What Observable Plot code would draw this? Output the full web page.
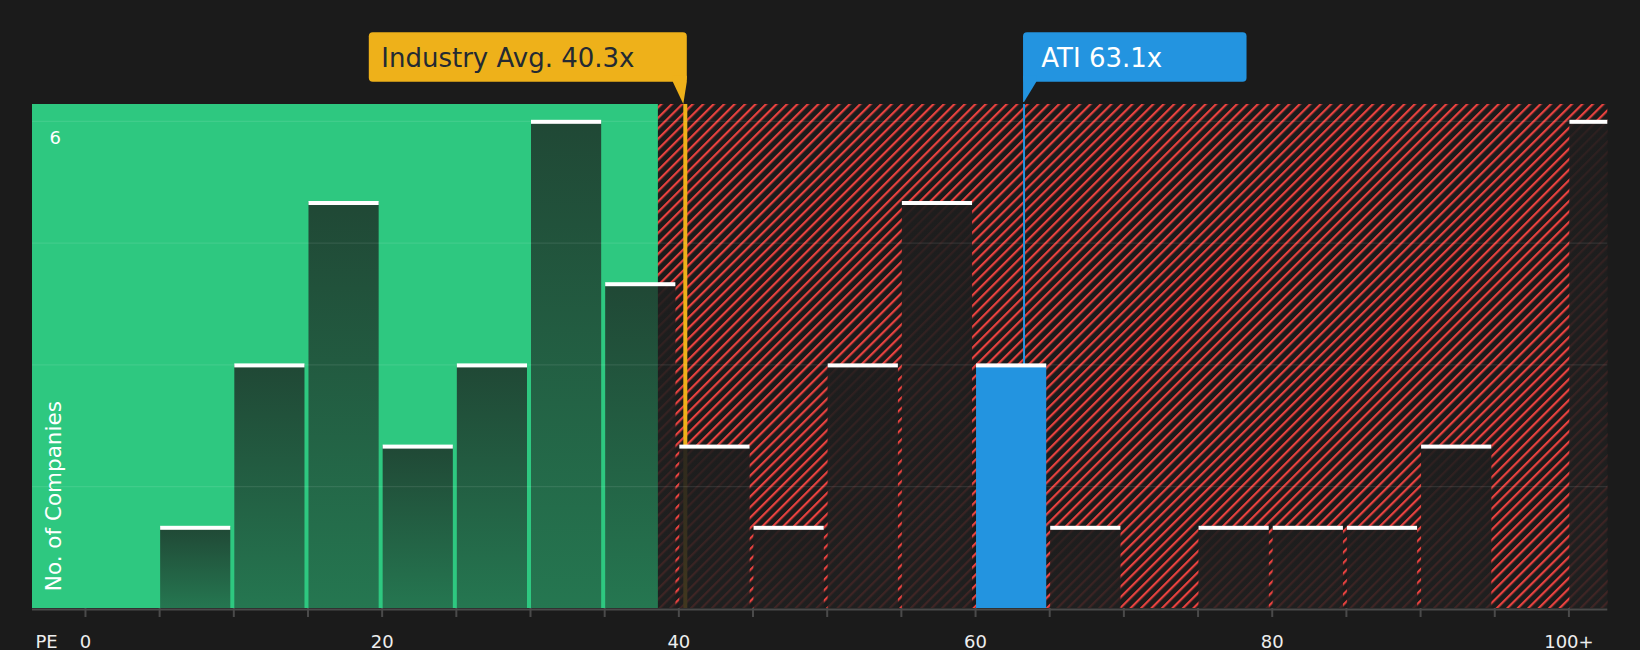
<!DOCTYPE html>
<html>
<head>
<meta charset="utf-8">
<script src="https://cdn.jsdelivr.net/npm/d3@7"></script>
<script src="https://cdn.jsdelivr.net/npm/@observablehq/plot@0.6"></script>
<style>
  html, body { margin: 0; padding: 0; background: #1b1b1b; }
  #chart { width: 1640px; height: 650px; }
</style>
</head>
<body>
<div id="chart"></div>
<script>
// ---- data ----
const binStarts = [0, 5, 10, 15, 20, 25, 30, 35, 40, 45, 50, 55, 60, 65, 70, 75, 80, 85, 90, 95, 100];
const binCounts = [0, 1, 3, 5, 2, 3, 6, 4, 2, 1, 3, 5, 3, 1, 0, 1, 1, 1, 2, 0, 6];
const binWidth = 5;
const xTickValues = [0, 20, 40, 60, 80, 100];
const xTickLabels = ["0", "20", "40", "60", "80", "100+"];
const minorTickValues = [0, 5, 10, 15, 20, 25, 30, 35, 40, 45, 50, 55, 60, 65, 70, 75, 80, 85, 90, 95, 100];
const gridValues = [1.5, 3, 4.5, 6];
const yTickValues = [6];
const yLabel = "No. of Companies";
const xLabel = "PE";
const industryAvg = 40.3;
const industryLabel = "Industry Avg. 40.3x";
const companyPE = 63.1;
const companyLabel = "ATI 63.1x";
const goodRangeEnd = 38.62;
const xDomain = [-3.57, 102.62];
const yDomain = [0, 6.207];

// ---- derived table ----
const bins = binStarts
  .map((s, i) => ({x1: s, x2: s + binWidth, count: binCounts[i]}))
  .filter(d => d.count > 0);
const companyBin = bins.find(d => companyPE >= d.x1 && companyPE < d.x2);
const otherBins = bins.filter(d => d !== companyBin);

const GREEN = "#2ec880";
const YELLOW = "#eeb11a";
const BLUE = "#2394e0";
const FONT = "DejaVu Sans";

const chart = Plot.plot({
  width: 1640,
  height: 650,
  marginTop: 104,
  marginBottom: 42,
  marginLeft: 32,
  marginRight: 32.7,
  x: {domain: xDomain, axis: null},
  y: {domain: yDomain, axis: null},
  style: {background: "transparent", fontFamily: FONT, overflow: "visible", color: "#fff"},
  marks: [
    Plot.rect([{x1: xDomain[0], x2: xDomain[1]}], {x1: "x1", x2: "x2", fill: "url(#hatch)"}),
    Plot.ruleX([industryAvg], {stroke: YELLOW, strokeWidth: 4, dx: 2}),
    Plot.rect(otherBins, {x1: "x1", x2: "x2", y1: 0, y2: "count", fill: "#262626", fillOpacity: 0.7,
      insetLeft: 1, insetRight: 3, clip: true}),
    Plot.rect([{x1: xDomain[0], x2: goodRangeEnd}], {x1: "x1", x2: "x2", fill: GREEN}),
    Plot.rect(otherBins, {x1: "x1", x2: "x2", y1: 0, y2: "count", fill: "url(#barGrad)",
      insetLeft: 1, insetRight: 3, ariaLabel: "good-bars"}),
    Plot.ruleY(gridValues, {stroke: "#ffffff", strokeOpacity: 0.09, strokeWidth: 1.2}),
    Plot.ruleX([companyPE], {stroke: BLUE, strokeWidth: 2, dx: 2.5}),
    Plot.rect([companyBin], {x1: "x1", x2: "x2", y1: 0, y2: "count", fill: BLUE, insetLeft: 1, insetRight: 3}),
    Plot.rect(bins, {x1: "x1", x2: "x2", y1: "count", y2: "count", fill: "#ffffff",
      insetLeft: 1, insetRight: 3, insetTop: -1, insetBottom: -3, clip: true}),
    Plot.ruleY([0], {stroke: "#4a4a4a", strokeWidth: 2, dy: 1}),
    Plot.ruleX(minorTickValues, {y1: 0, y2: 0, insetBottom: -9, stroke: "#4a4a4a", strokeWidth: 2}),
    Plot.text(xTickValues, {x: d => d, text: (d, i) => xTickLabels[i], frameAnchor: "bottom",
      dy: 33.6, lineAnchor: "middle", textAnchor: "middle", fill: "#eeeeee", fontSize: 18}),
    Plot.text([xLabel], {text: d => d, frameAnchor: "bottom-left", dx: 3, dy: 33.6,
      lineAnchor: "middle", textAnchor: "start", fill: "#eeeeee", fontSize: 18}),
    Plot.text(yTickValues, {y: d => d, text: d => String(d), frameAnchor: "left", dx: 17, dy: 17,
      lineAnchor: "middle", textAnchor: "start", fill: "#ffffff", fontSize: 18}),
    Plot.text([yLabel], {text: d => d, frameAnchor: "bottom-left", rotate: -90, dx: 22, dy: -17.3,
      lineAnchor: "middle", textAnchor: "start", fill: "#ffffff", fontSize: 21.5})
  ]
});

document.getElementById("chart").appendChild(chart);

// ---- defs: hatch pattern, gradient, clip ----
const svg = d3.select(chart);
const xs = chart.scale("x");
const X = v => xs.apply(v);
const defs = svg.insert("defs", ":first-child");

const pat = defs.append("pattern")
  .attr("id", "hatch")
  .attr("patternUnits", "userSpaceOnUse")
  .attr("width", 7.4).attr("height", 7.4)
  .attr("patternTransform", "rotate(45)");
pat.append("rect").attr("width", 7.4).attr("height", 7.4).attr("fill", "#1b1b1b");
pat.append("line").attr("x1", 1.1).attr("y1", -1).attr("x2", 1.1).attr("y2", 8.4)
  .attr("stroke", "#e8423f").attr("stroke-width", 2.2);

const grad = defs.append("linearGradient").attr("id", "barGrad")
  .attr("x1", 0).attr("y1", 0).attr("x2", 0).attr("y2", 1);
grad.append("stop").attr("offset", "0%").attr("stop-color", "#1b1b1b").attr("stop-opacity", 0.74);
grad.append("stop").attr("offset", "100%").attr("stop-color", "#1b1b1b").attr("stop-opacity", 0.47);

defs.append("clipPath").attr("id", "goodClip").append("rect")
  .attr("x", X(xDomain[0])).attr("y", 0)
  .attr("width", X(goodRangeEnd) - X(xDomain[0])).attr("height", 650);
svg.selectAll("g[aria-label='good-bars']").attr("clip-path", "url(#goodClip)");

// ---- callouts ----
const boxTop = 32.3, boxBottom = 81.7, frameTop = 104;
const ann = svg.append("g").attr("font-family", FONT).attr("text-anchor", "start");

{
  const R = X(industryAvg) + 4;
  const L = R - 318;
  ann.append("rect").attr("x", L).attr("y", boxTop).attr("width", R - L).attr("height", boxBottom - boxTop)
    .attr("rx", 4).attr("fill", YELLOW);
  ann.append("polygon")
    .attr("points", [[R - 14, boxBottom - 6], [R, boxBottom - 6], [R, boxBottom], [R - 3.5, frameTop], [R - 14, boxBottom]].map(p => p.join(",")).join(" "))
    .attr("fill", YELLOW);
  ann.append("text").attr("x", L + 12.5).attr("y", 66.5).attr("font-size", 26)
    .attr("text-anchor", "start").attr("fill", "#232a33").text(industryLabel);
}
{
  const L = X(companyPE) + 2;
  const R = L + 223.5;
  ann.append("rect").attr("x", L).attr("y", boxTop).attr("width", R - L).attr("height", boxBottom - boxTop)
    .attr("rx", 4).attr("fill", BLUE);
  ann.append("polygon")
    .attr("points", [[L, boxBottom - 6], [L + 13.3, boxBottom - 6], [L + 13.3, boxBottom], [L + 1, frameTop - 2], [L, frameTop - 2]].map(p => p.join(",")).join(" "))
    .attr("fill", BLUE);
  ann.append("text").attr("x", L + 18.3).attr("y", 66.5).attr("font-size", 26)
    .attr("text-anchor", "start").attr("fill", "#ffffff").text(companyLabel);
}
</script>
</body>
</html>
